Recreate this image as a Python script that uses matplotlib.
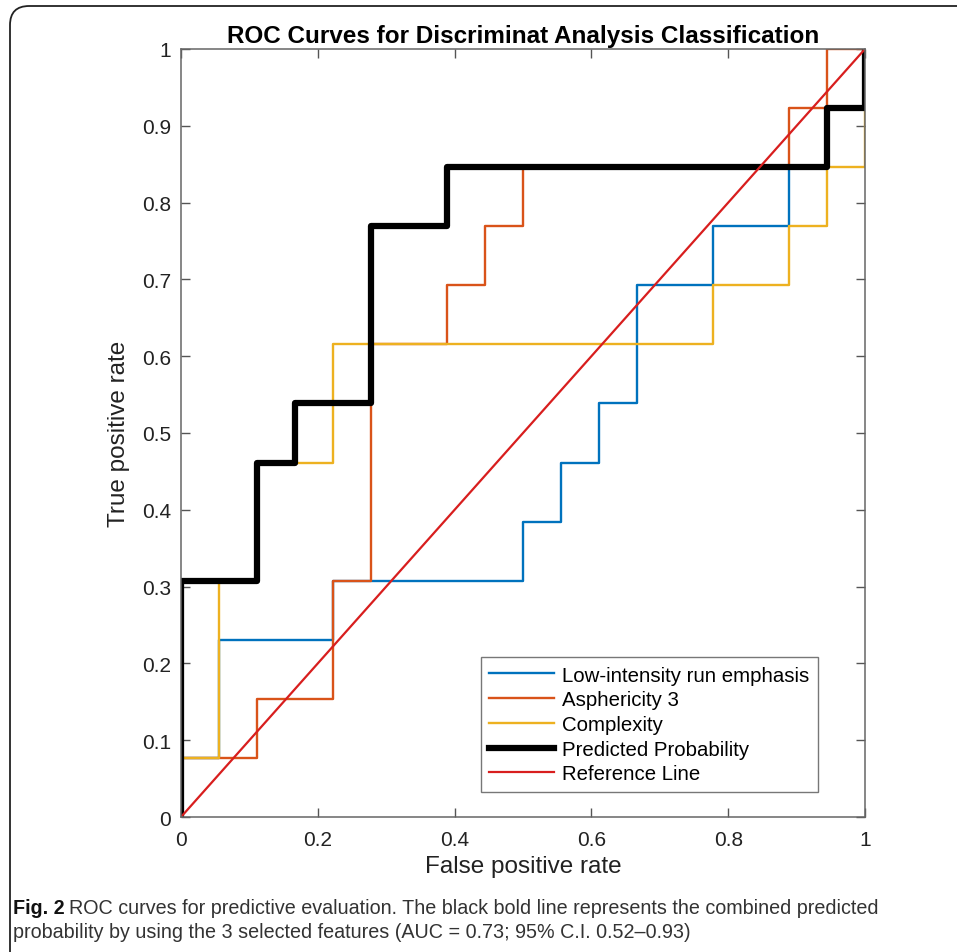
import matplotlib
matplotlib.use('Agg')
import matplotlib.pyplot as plt
from matplotlib.patches import FancyBboxPatch
from matplotlib.ticker import FuncFormatter
from matplotlib import font_manager

plt.rcParams['font.family'] = ['Liberation Sans', 'DejaVu Sans']

# ROC step curves (FPR in 1/18 steps, TPR in 1/13 steps)
fpr_low = [0, 0, 1/18, 1/18, 4/18, 4/18, 9/18, 9/18, 10/18, 10/18, 11/18, 11/18,
           12/18, 12/18, 14/18, 14/18, 16/18, 16/18, 17/18, 17/18, 1, 1]
tpr_low = [0, 1/13, 1/13, 3/13, 3/13, 4/13, 4/13, 5/13, 5/13, 6/13, 6/13, 7/13,
           7/13, 9/13, 9/13, 10/13, 10/13, 11/13, 11/13, 12/13, 12/13, 1]

fpr_asph = [0, 0, 2/18, 2/18, 4/18, 4/18, 5/18, 5/18, 7/18, 7/18, 8/18, 8/18,
            9/18, 9/18, 16/18, 16/18, 17/18, 17/18, 1]
tpr_asph = [0, 1/13, 1/13, 2/13, 2/13, 4/13, 4/13, 8/13, 8/13, 9/13, 9/13, 10/13,
            10/13, 11/13, 11/13, 12/13, 12/13, 1, 1]

fpr_comp = [0, 0, 1/18, 1/18, 2/18, 2/18, 4/18, 4/18, 14/18, 14/18, 16/18, 16/18,
            17/18, 17/18, 1, 1]
tpr_comp = [0, 1/13, 1/13, 4/13, 4/13, 6/13, 6/13, 8/13, 8/13, 9/13, 9/13, 10/13,
            10/13, 11/13, 11/13, 1]

fpr_pred = [0, 0, 2/18, 2/18, 3/18, 3/18, 5/18, 5/18, 7/18, 7/18, 17/18, 17/18, 1, 1]
tpr_pred = [0, 4/13, 4/13, 6/13, 6/13, 7/13, 7/13, 10/13, 10/13, 11/13, 11/13, 12/13, 12/13, 1]

ref_x = [0, 1]
ref_y = [0, 1]

labels = ['Low-intensity run emphasis', 'Asphericity 3', 'Complexity',
          'Predicted Probability', 'Reference Line']

cap1 = 'ROC curves for predictive evaluation. The black bold line represents the combined predicted'
cap2 = 'probability by using the 3 selected features (AUC = 0.73; 95% C.I. 0.52\u20130.93)'

fig = plt.figure(figsize=(9.57, 9.53), dpi=100)

# rounded frame of the figure panel (right and bottom run off the page)
frame = FancyBboxPatch((10 / 957, -0.05), 1.2, 1 - 7 / 953 + 0.05,
                       boxstyle='round,pad=0,rounding_size=0.02',
                       transform=fig.transFigure, fill=False,
                       edgecolor='#222222', linewidth=1.3)
fig.patches.append(frame)

ax = fig.add_axes([181 / 957, 1 - 818 / 953, (865 - 181) / 957, (818 - 50) / 953])
ax.plot(fpr_low, tpr_low, color='#0072BD', lw=1.7, label=labels[0])
ax.plot(fpr_asph, tpr_asph, color='#D95319', lw=1.7, label=labels[1])
ax.plot(fpr_comp, tpr_comp, color='#EDB120', lw=1.7, label=labels[2])
ax.plot(fpr_pred, tpr_pred, color='black', lw=4.5, label=labels[3])
ax.plot(ref_x, ref_y, color='#d81e1e', lw=1.6, label=labels[4])

ax.set_xlim(0, 1)
ax.set_ylim(0, 1)
ax.set_xticks([0, 0.2, 0.4, 0.6, 0.8, 1])
ax.set_yticks([i / 10 for i in range(11)])
fmt = FuncFormatter(lambda v, p: '%g' % round(v, 2))
ax.xaxis.set_major_formatter(fmt)
ax.yaxis.set_major_formatter(fmt)
ax.tick_params(direction='in', top=True, right=True, length=6.5, width=1,
               color='#555555', labelsize=15, labelcolor='#222222')
ax.tick_params(axis='x', pad=9)
ax.tick_params(axis='y', pad=7)
for s in ax.spines.values():
    s.set_color('#666666')
    s.set_linewidth(1.1)

ax.set_xlabel('False positive rate', fontsize=17.5, color='#222222', labelpad=5)
ax.set_ylabel('True positive rate', fontsize=17.5, color='#222222', labelpad=9)
ax.set_title('ROC Curves for Discriminat Analysis Classification',
             fontsize=17.5, fontweight='bold', pad=5)

leg = ax.legend(loc='lower right', bbox_to_anchor=(0.931, 0.033), fontsize=14.7,
                frameon=True, fancybox=False, handlelength=3.2, borderpad=0.4,
                labelspacing=0.28, handletextpad=0.4, borderaxespad=0)
leg.get_frame().set_edgecolor('#555555')
leg.get_frame().set_linewidth(1)

# caption: pick a narrow face if present, fit line 1 to the reference width
try:
    font_manager.findfont('Liberation Sans Narrow', fallback_to_default=False)
    cap_font = ['Liberation Sans Narrow', 'DejaVu Sans']
except Exception:
    cap_font = ['Liberation Sans', 'DejaVu Sans']

fig.canvas.draw()
r = fig.canvas.get_renderer()
W = fig.bbox.width
x0 = 13 / W
y1 = 1 - 908 / 953
y2 = 1 - 933 / 953

size = 14
t1 = fig.text(x0, y1, 'Fig. 2', fontsize=size, fontweight='bold', family=cap_font,
              va='center', color='#111111')
t2 = fig.text(0, y1, cap1, fontsize=size, family=cap_font, va='center', color='#333333')
t3 = fig.text(x0, y2, cap2, fontsize=size, family=cap_font, va='center', color='#333333')
for _ in range(2):
    b1 = t1.get_window_extent(renderer=r)
    t2.set_x((b1.x1 + 0.3 * size) / W)
    b2 = t2.get_window_extent(renderer=r)
    size = size * 865 / (b2.x1 - b1.x0)
    for t in (t1, t2, t3):
        t.set_fontsize(size)
b1 = t1.get_window_extent(renderer=r)
t2.set_x((b1.x1 + 0.3 * size) / W)

fig.savefig('out.png', dpi=100)
